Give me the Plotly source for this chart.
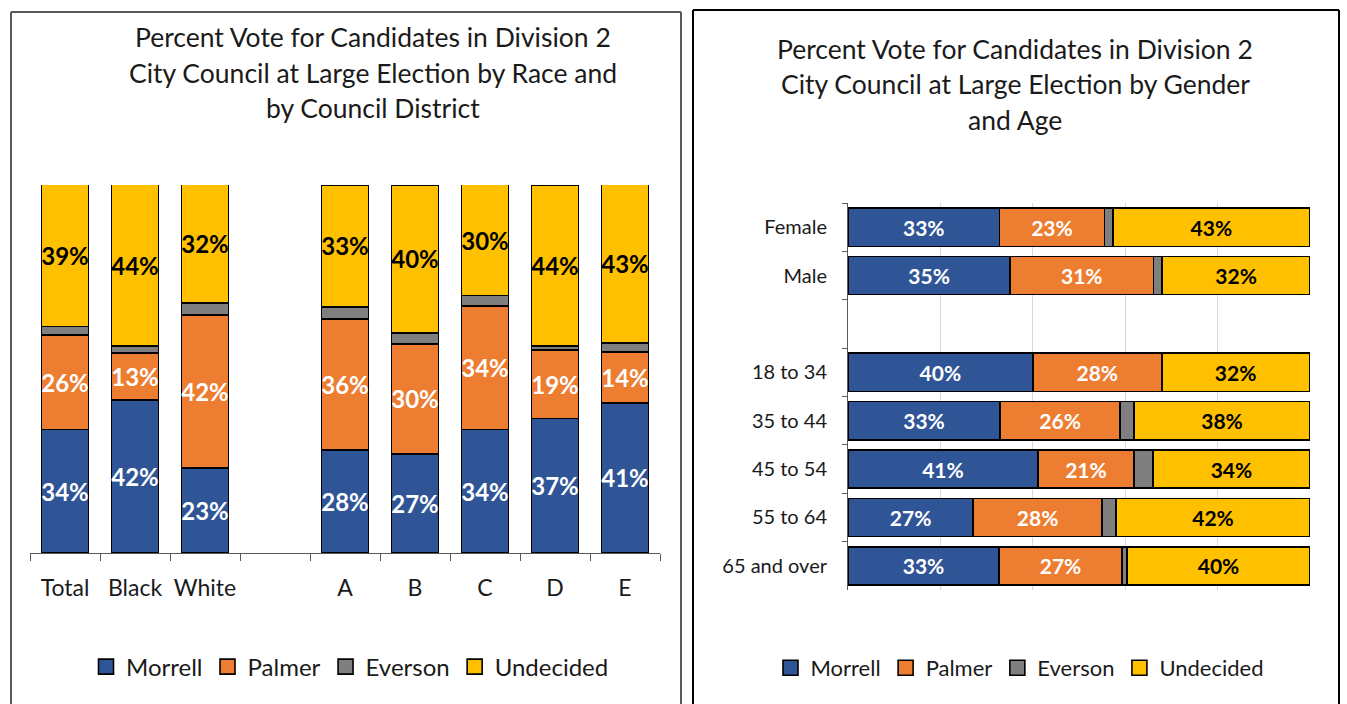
import plotly.graph_objects as go

# ---------------- data ----------------
left_categories = ["Total", "Black", "White", " ", "A", "B", "C", "D", "E"]
left_morrell   = [33.6, 41.6, 23.1, None, 28.0, 26.9, 33.6, 36.6, 40.8]
left_palmer    = [25.6, 12.8, 41.6, None, 35.6, 29.9, 33.6, 18.6, 13.9]
left_everson   = [2.3,  1.9,  3.3,  None, 3.3,  3.0,  2.8,  1.1,  2.4]
left_undecided = [38.6, 43.8, 32.1, None, 33.1, 40.2, 30.1, 43.7, 43.0]

right_categories = ["Female", "Male", " ", "18 to 34", "35 to 44", "45 to 54", "55 to 64", "65 and over"]
right_morrell   = [32.8, 35.1, None, 40.0, 32.9, 41.1, 27.1, 32.7]
right_palmer    = [22.7, 31.0, None, 27.9, 26.0, 20.8, 27.9, 26.6]
right_everson   = [1.8,  1.9,  None, 0.0,  3.0,  4.1,  3.0,  1.1]
right_undecided = [42.7, 32.0, None, 32.0, 38.1, 34.0, 42.0, 39.6]

series_names = ["Morrell", "Palmer", "Everson", "Undecided"]
left_title = ["Percent Vote for Candidates in Division 2",
              "City Council at Large Election by Race and",
              "by Council District"]
right_title = ["Percent Vote for Candidates in Division 2",
               "City Council at Large Election by Gender",
               "and Age"]

# ---------------- styles ----------------
colors = ["#2F5597", "#ED7D31", "#7F7F7F", "#FFC000"]
text_colors = ["white", "white", None, "black"]
FONT = "Lato, 'Open Sans', sans-serif"
W, H = 1347, 704

def px(x):
    return x / W

def py(y):
    return 1 - y / H

fig = go.Figure()

left_vals = [left_morrell, left_palmer, left_everson, left_undecided]
right_vals = [right_morrell, right_palmer, right_everson, right_undecided]

for name, vals, col, tcol in zip(series_names, left_vals, colors, text_colors):
    fig.add_trace(go.Bar(
        x=left_categories, y=vals, name=name,
        marker=dict(color=col, line=dict(color="black", width=1.6)),
        width=0.67,
        texttemplate="%{y:.0f}%" if tcol else None,
        textposition="inside" if tcol else "none",
        insidetextanchor="middle",
        textangle=0,
        constraintext="none",
        insidetextfont=dict(family=FONT, size=24, color=tcol or "black", weight="bold"),
        xaxis="x", yaxis="y", showlegend=False,
        hoverinfo="skip",
    ))

for name, vals, col, tcol in zip(series_names, right_vals, colors, text_colors):
    fig.add_trace(go.Bar(
        y=right_categories, x=vals, name=name, orientation="h",
        marker=dict(color=col, line=dict(color="black", width=1.6)),
        width=0.79,
        texttemplate="%{x:.0f}%" if tcol else None,
        textposition="inside" if tcol else "none",
        insidetextanchor="middle",
        textangle=0,
        constraintext="none",
        insidetextfont=dict(family=FONT, size=21, color=tcol or "black", weight="bold"),
        xaxis="x2", yaxis="y2", showlegend=False,
        hoverinfo="skip",
    ))

# legend entries (square swatches) for both panels
for leg, ax, ay in (("legend", "x", "y"), ("legend2", "x2", "y2")):
    for name, col in zip(series_names, colors):
        fig.add_trace(go.Scatter(
            x=[None], y=[None], name=name, mode="markers",
            marker=dict(symbol="square", size=15, color=col, line=dict(color="black", width=1.6)),
            xaxis=ax, yaxis=ay, legend=leg, showlegend=True, hoverinfo="skip",
        ))

annotations = []
for i, line in enumerate(left_title):
    annotations.append(dict(text=line, x=px(373), y=py([37, 73, 108][i]), xref="paper", yref="paper",
                            showarrow=False, xanchor="center", yanchor="middle",
                            font=dict(family=FONT, size=26.5, color="#1a1a1a")))
for i, line in enumerate(right_title):
    annotations.append(dict(text=line, x=px(1015), y=py([49, 84, 120][i]), xref="paper", yref="paper",
                            showarrow=False, xanchor="center", yanchor="middle",
                            font=dict(family=FONT, size=26.5, color="#1a1a1a")))

shapes = [
    # left panel border (gray)
    dict(type="line", xref="paper", yref="paper", x0=px(11), x1=px(11), y0=py(12), y1=py(710), line=dict(color="#595959", width=2)),
    dict(type="line", xref="paper", yref="paper", x0=px(11), x1=px(681), y0=py(12), y1=py(12), line=dict(color="#595959", width=2)),
    dict(type="line", xref="paper", yref="paper", x0=px(681), x1=px(681), y0=py(12), y1=py(710), line=dict(color="#595959", width=2)),
    # right panel border (black)
    dict(type="line", xref="paper", yref="paper", x0=px(693), x1=px(693), y0=py(10), y1=py(710), line=dict(color="black", width=2)),
    dict(type="line", xref="paper", yref="paper", x0=px(693), x1=px(1339), y0=py(10), y1=py(10), line=dict(color="black", width=2)),
    dict(type="line", xref="paper", yref="paper", x0=px(1339), x1=px(1339), y0=py(10), y1=py(710), line=dict(color="black", width=2)),
]

fig.update_layout(
    width=W, height=H,
    margin=dict(l=0, r=0, t=0, b=0),
    paper_bgcolor="white", plot_bgcolor="white",
    barmode="stack",
    font=dict(family=FONT, color="#262626"),
    showlegend=True,
    xaxis=dict(domain=[px(30), px(660)], type="category", categoryorder="array",
               categoryarray=left_categories, tickson="boundaries", ticks="outside",
               ticklen=7, tickcolor="#595959", showline=True, linecolor="#595959",
               linewidth=1, showgrid=False, tickangle=0,
               tickfont=dict(family=FONT, size=23, color="#1a1a1a"),
               ticklabelstandoff=14, anchor="y", fixedrange=True),
    yaxis=dict(domain=[py(553), py(185)], range=[0, 100], visible=False, anchor="x", fixedrange=True),
    xaxis2=dict(domain=[px(848), px(1310)], range=[0, 100], showticklabels=False,
                showgrid=True, gridcolor="#D9D9D9", gridwidth=1, dtick=20, tick0=0,
                zeroline=False, showline=False, anchor="y2", fixedrange=True),
    yaxis2=dict(domain=[py(590), py(203)], type="category", categoryorder="array",
                categoryarray=right_categories, autorange="reversed",
                tickson="boundaries", ticks="outside", ticklen=5, tickcolor="#595959",
                showline=True, linecolor="#595959", linewidth=1, showgrid=False,
                tickfont=dict(family=FONT, size=20, color="#1a1a1a"),
                ticklabelstandoff=16, anchor="x2", fixedrange=True),
    legend=dict(orientation="h", x=px(350), y=py(667), xanchor="center", yanchor="middle",
                traceorder="normal", font=dict(family=FONT, size=24, color="#1a1a1a"),
                bgcolor="rgba(0,0,0,0)", itemwidth=30),
    legend2=dict(orientation="h", x=px(1020), y=py(668), xanchor="center", yanchor="middle",
                 traceorder="normal", font=dict(family=FONT, size=22, color="#1a1a1a"),
                 bgcolor="rgba(0,0,0,0)", itemwidth=30),
    annotations=annotations,
    shapes=shapes,
)

fig.write_html("out.html", config={"displayModeBar": False},
               post_script="document.body.style.margin='0';document.body.style.overflow='hidden';")
